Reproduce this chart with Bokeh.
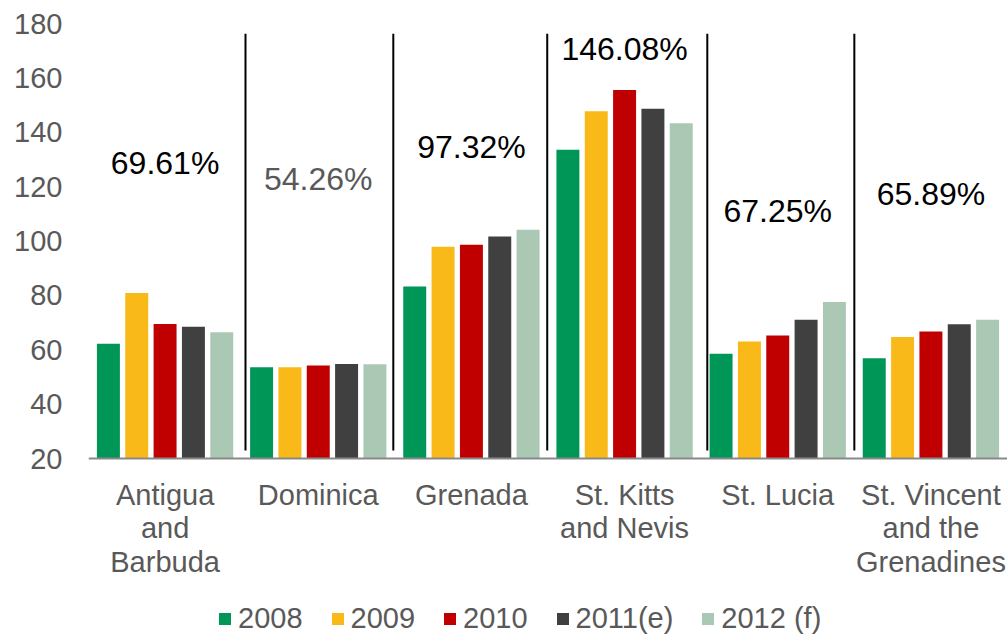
from bokeh.plotting import figure
from bokeh.models import Range1d, FixedTicker, Legend, LegendItem, ColumnDataSource, Span
from bokeh.core.properties import value
from bokeh.embed import file_html
from bokeh.resources import INLINE

categories = ["Antigua\nand\nBarbuda", "Dominica", "Grenada", "St. Kitts\nand Nevis",
              "St. Lucia", "St. Vincent\nand the\nGrenadines"]
series_names = ["2008", "2009", "2010", "2011(e)", "2012 (f)"]
v2008 = [62.2, 53.6, 83.3, 133.6, 58.5, 56.9]
v2009 = [80.9, 53.6, 97.9, 147.7, 63.0, 64.7]
v2010 = [69.5, 54.2, 98.6, 155.5, 65.2, 66.7]
v2011 = [68.5, 54.8, 101.7, 148.6, 71.0, 69.4]
v2012 = [66.4, 54.7, 104.1, 143.3, 77.6, 71.0]
pct_labels = ["69.61%", "54.26%", "97.32%", "146.08%", "67.25%", "65.89%"]
y_ticks = [20, 40, 60, 80, 100, 120, 140, 160, 180]

colors = ["#009658", "#F9B918", "#C00000", "#404040", "#ABC8B4"]
pct_colors = ["#000000", "#595959", "#000000", "#000000", "#000000", "#000000"]
label_y = [128.8, 122.9, 134.7, 170.7, 111.2, 117.4]
divider_x = [1.025, 1.99, 2.995, 4.04, 5.0]

FONT = "Liberation Sans"
series = [v2008, v2009, v2010, v2011, v2012]
centers = [i + 0.5 for i in range(len(categories))]

# layout: plotting area of 435 px for 20..180, extended below for category labels/legend
Y0, Y1 = 20, 180
PLOT_PX = 435
BELOW_PX = 176
ppu = PLOT_PX / (Y1 - Y0)
y_bottom = Y0 - BELOW_PX / ppu

p = figure(frame_width=919, frame_height=PLOT_PX + BELOW_PX, output_backend="svg",
           toolbar_location=None,
           x_range=Range1d(0, len(categories)), y_range=Range1d(y_bottom, Y1),
           min_border_left=88, min_border_right=0, min_border_top=23, min_border_bottom=0)
p.outline_line_color = None
p.xgrid.visible = False
p.ygrid.visible = False
p.xaxis.visible = False
p.background_fill_color = "white"

pitch = 0.185
bw = 0.15
items = []
for j, (name, vals, col) in enumerate(zip(series_names, series, colors)):
    xs = [c + (j - 2) * pitch for c in centers]
    r = p.vbar(x=xs, top=vals, bottom=Y0, width=bw, fill_color=col, line_color=None)
    items.append(LegendItem(label=name, renderers=[r]))

# baseline (category axis line)
p.add_layout(Span(location=Y0, dimension="width", line_color="#898989", line_width=2))

# dividers
p.segment(x0=divider_x, x1=divider_x, y0=[22.9] * 5, y1=[176.2] * 5,
          line_color="black", line_width=2)

# percent labels
src = ColumnDataSource(dict(x=centers, y=label_y, t=pct_labels, c=pct_colors))
p.text(x="x", y="y", text="t", source=src, text_color="c", text_align="center",
       text_baseline="middle", text_font=value(FONT), text_font_size="32px")

# category labels (one text per line)
lx, ly, lt = [], [], []
for c, lab in zip(centers, categories):
    for k, line in enumerate(lab.split("\n")):
        lx.append(c)
        ly.append(Y0 - (36 + 33.5 * k) / ppu)
        lt.append(line)
p.text(x=lx, y=ly, text=lt, text_color="#595959", text_align="center",
       text_baseline="middle", text_font=value(FONT), text_font_size="29px")

# y axis
p.yaxis.ticker = FixedTicker(ticks=y_ticks)
p.yaxis.axis_line_color = None
p.yaxis.major_tick_line_color = None
p.yaxis.minor_tick_line_color = None
p.yaxis.major_label_text_font = FONT
p.yaxis.major_label_text_font_size = "29px"
p.yaxis.major_label_text_color = "#595959"
p.yaxis.major_label_standoff = 20

legend = Legend(items=items, orientation="horizontal", location=(129, -1),
                glyph_width=15, glyph_height=15, label_standoff=6, spacing=27,
                label_height=29, label_text_line_height=1.0,
                label_text_font=FONT, label_text_font_size="29px",
                label_text_color="#595959", border_line_color=None,
                background_fill_alpha=0, padding=0, margin=0)
p.add_layout(legend)

open("out.html", "w").write(file_html(p, INLINE))
